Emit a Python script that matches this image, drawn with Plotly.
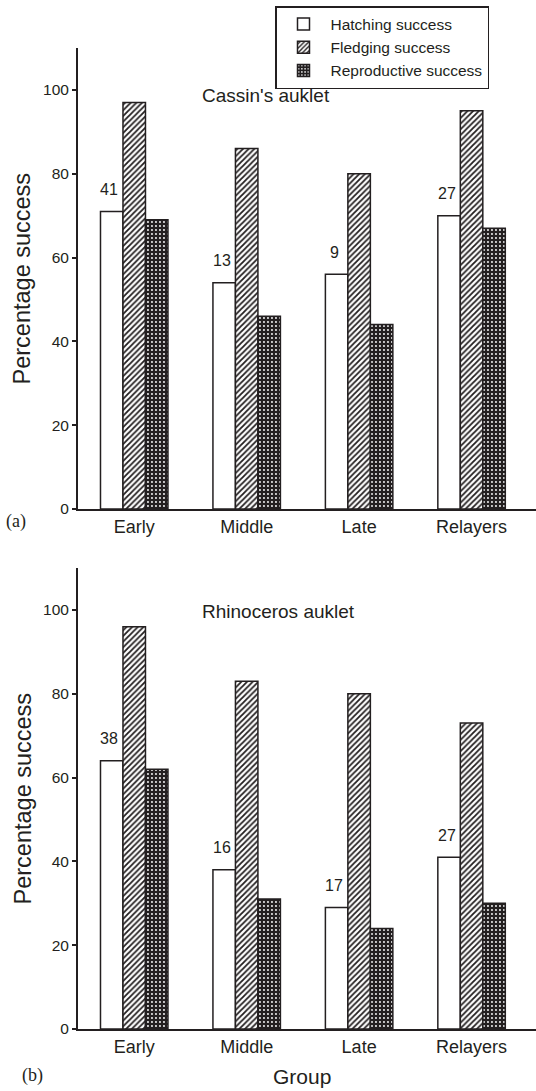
import plotly.graph_objects as go

# ---------------- data ----------------
groups = ["Early", "Middle", "Late", "Relayers"]
series_names = ["Hatching success", "Fledging success", "Reproductive success"]

cassin_hatching = [71, 54, 56, 70]
cassin_fledging = [97, 86, 80, 95]
cassin_reproductive = [69, 46, 44, 67]
cassin_n = [41, 13, 9, 27]

rhino_hatching = [64, 38, 29, 41]
rhino_fledging = [96, 83, 80, 73]
rhino_reproductive = [62, 31, 24, 30]
rhino_n = [38, 16, 17, 27]

y_ticks = [0, 20, 40, 60, 80, 100]

panel_titles = ["Cassin's auklet", "Rhinoceros auklet"]
panel_tags = ["(a)", "(b)"]
y_title = "Percentage success"
x_title = "Group"

# ---------------- styling ----------------
W, H = 536, 1091
INK = "#231f20"
FONT = "Liberation Sans, Arial, Helvetica, sans-serif"
SERIF = "Liberation Serif, Times New Roman, serif"


def px_x(p):
    return p / W


def px_y(p):
    return 1 - p / H


patterns = [
    dict(shape="", fillmode="replace"),
    dict(shape="/", fgcolor=INK, bgcolor="white", size=4, solidity=0.45, fillmode="replace"),
    dict(shape=".", fgcolor="white", bgcolor=INK, size=4, solidity=0.18, fillmode="replace"),
]
fills = ["white", "white", INK]

fig = go.Figure()

panels = [
    (cassin_hatching, cassin_fledging, cassin_reproductive, cassin_n, "x", "y"),
    (rhino_hatching, rhino_fledging, rhino_reproductive, rhino_n, "x2", "y2"),
]

for pi, (hat, fle, rep, nvals, xa, ya) in enumerate(panels):
    for si, vals in enumerate([hat, fle, rep]):
        fig.add_trace(go.Bar(
            x=groups, y=vals, name=series_names[si],
            xaxis=xa, yaxis=ya,
            marker=dict(color=fills[si], pattern=patterns[si],
                        line=dict(color=INK, width=1.5)),
            showlegend=(pi == 0), legendgroup=series_names[si],
            hoverinfo="x+y+name",
        ))
    for g, v, n in zip(groups, hat, nvals):
        fig.add_annotation(x=g, y=v, xref=xa, yref=ya, text=str(n),
                           showarrow=False, yanchor="middle", xanchor="center",
                           xshift=-25, yshift=22,
                           font=dict(family=FONT, size=16, color=INK))

x_dom = [px_x(78), 1.0]
x_range = [-0.5, 3.573]
top_dom = [px_y(509), px_y(48)]
bot_dom = [px_y(1029), px_y(568)]

xaxis_common = dict(range=x_range, domain=x_dom, showline=True, linecolor=INK,
                    linewidth=2, ticks="", showgrid=False, zeroline=False,
                    tickfont=dict(family=FONT, size=18, color=INK), automargin=False)
yaxis_common = dict(range=[0, 110], tickvals=y_ticks, showline=True, linecolor=INK,
                    linewidth=2, ticks="outside", ticklen=4, tickwidth=1.5,
                    tickcolor=INK, showgrid=False, zeroline=False,
                    tickfont=dict(family=FONT, size=15.5, color=INK), automargin=False)

fig.update_layout(
    width=W, height=H,
    margin=dict(l=0, r=0, t=0, b=0),
    paper_bgcolor="white", plot_bgcolor="white",
    barmode="group", bargap=0.4, bargroupgap=0.0,
    font=dict(family=FONT, color=INK),
    xaxis=dict(xaxis_common, anchor="y"),
    yaxis=dict(yaxis_common, domain=top_dom, anchor="x"),
    xaxis2=dict(xaxis_common, anchor="y2"),
    yaxis2=dict(yaxis_common, domain=bot_dom, anchor="x2"),
    legend=dict(x=px_x(275), y=px_y(6), xanchor="left", yanchor="top",
                bgcolor="white", bordercolor=INK, borderwidth=1.5,
                font=dict(family=FONT, size=15.5, color=INK),
                itemwidth=44, tracegroupgap=0, traceorder="normal"),
)

# panel titles
fig.add_annotation(x=px_x(200), y=px_y(96), xref="paper", yref="paper",
                   text=panel_titles[0], showarrow=False, xanchor="left", yanchor="middle",
                   font=dict(family=FONT, size=19, color=INK))
fig.add_annotation(x=px_x(200), y=px_y(612), xref="paper", yref="paper",
                   text=panel_titles[1], showarrow=False, xanchor="left", yanchor="middle",
                   font=dict(family=FONT, size=19, color=INK))

# panel tags
fig.add_annotation(x=px_x(16), y=px_y(521), xref="paper", yref="paper",
                   text=panel_tags[0], showarrow=False, xanchor="center", yanchor="middle",
                   font=dict(family=SERIF, size=18, color=INK))
fig.add_annotation(x=px_x(32), y=px_y(1075), xref="paper", yref="paper",
                   text=panel_tags[1], showarrow=False, xanchor="center", yanchor="middle",
                   font=dict(family=SERIF, size=18, color=INK))

# y titles
for dom in (top_dom, bot_dom):
    fig.add_annotation(x=px_x(22), y=(dom[0] + dom[1]) / 2, xref="paper", yref="paper",
                       text=y_title, showarrow=False, textangle=-90,
                       xanchor="center", yanchor="middle",
                       font=dict(family=FONT, size=23.5, color=INK))

# x title
fig.add_annotation(x=px_x(302), y=px_y(1090), xref="paper", yref="paper",
                   text=x_title, showarrow=False, xanchor="center", yanchor="bottom",
                   font=dict(family=FONT, size=21, color=INK))

fig.write_html("out.html")
